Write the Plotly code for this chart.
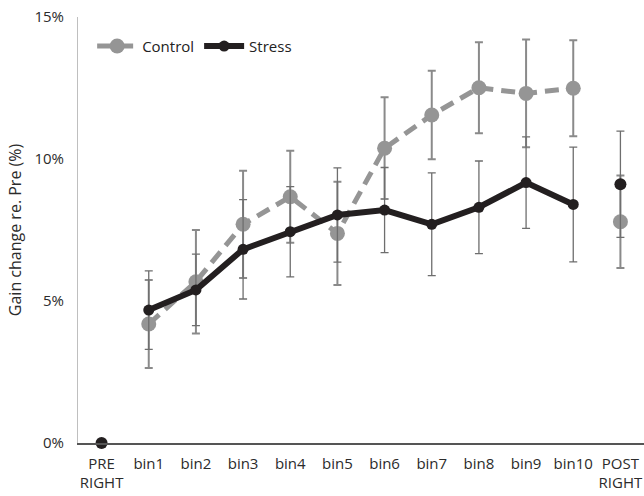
import plotly.graph_objects as go

categories = ["PRE<br>RIGHT", "bin1", "bin2", "bin3", "bin4", "bin5", "bin6",
              "bin7", "bin8", "bin9", "bin10", "POST<br>RIGHT"]
control = [0, 4.19, 5.68, 7.70, 8.67, 7.38, 10.38, 11.55, 12.51, 12.31, 12.49, 7.79]
control_err = [None, 1.55, 1.82, 1.89, 1.62, 1.82, 1.79, 1.56, 1.60, 1.90, 1.69, 1.63]
stress = [0, 4.68, 5.39, 6.82, 7.44, 8.03, 8.20, 7.70, 8.30, 9.17, 8.40, 9.11]
stress_err = [None, 1.38, 1.26, 1.75, 1.59, 1.66, 1.50, 1.81, 1.63, 1.61, 2.02, 1.87]
y_ticks = [0, 5, 10, 15]
y_tick_text = ["0%", "5%", "10%", "15%"]

CTRL = "#959595"
STR = "#231f20"
FONT = "Open Sans"
TXT = "#2b2b2b"

fig = go.Figure()

bins = slice(1, 11)
ends = [0, 11]

# Control
fig.add_trace(go.Scatter(
    x=categories[bins], y=control[bins], name="Control", mode="lines+markers",
    line=dict(color=CTRL, width=5, dash="14px,8px"),
    marker=dict(size=15, color=CTRL, line=dict(width=0)),
    error_y=dict(type="data", array=control_err[bins], color="#8a8a8a",
                 thickness=2, width=4),
    cliponaxis=False,
))
fig.add_trace(go.Scatter(
    x=[categories[11]], y=[control[11]],
    mode="markers", showlegend=False,
    marker=dict(size=15, color=CTRL, line=dict(width=0)),
    error_y=dict(type="data", array=[control_err[11]],
                 color="#8a8a8a", thickness=2, width=4),
    cliponaxis=False,
))
# Stress
fig.add_trace(go.Scatter(
    x=categories[bins], y=stress[bins], name="Stress", mode="lines+markers",
    line=dict(color=STR, width=6),
    marker=dict(size=11, color=STR, line=dict(width=0)),
    error_y=dict(type="data", array=stress_err[bins], color="#6e6e6e",
                 thickness=1.3, width=4),
    cliponaxis=False,
))
fig.add_trace(go.Scatter(
    x=[categories[i] for i in ends], y=[stress[i] for i in ends],
    mode="markers", showlegend=False,
    marker=dict(size=12, color=STR, line=dict(width=0)),
    error_y=dict(type="data", array=[stress_err[i] for i in ends],
                 color="#6e6e6e", thickness=1.3, width=4),
    cliponaxis=False,
))

fig.update_layout(
    width=644, height=496,
    margin=dict(l=78, r=0, t=17, b=53, autoexpand=False),
    paper_bgcolor="white", plot_bgcolor="white",
    font=dict(family=FONT, size=15, color=TXT),
    legend=dict(orientation="h", x=0.025, y=0.97, xanchor="left", yanchor="top",
                bgcolor="rgba(0,0,0,0)", font=dict(size=15, color="#222222"),
                itemwidth=40, tracegroupgap=0),
    showlegend=True,
)
fig.update_xaxes(
    type="category", categoryorder="array", categoryarray=categories,
    range=[-0.5, 11.5], automargin=False,
    showline=True, linecolor="#555555", linewidth=1.5,
    showgrid=False, zeroline=False,
    ticks="outside", ticklen=6, tickcolor="rgba(0,0,0,0)",
    tickfont=dict(size=15, color=TXT),
)
fig.update_yaxes(
    range=[0, 15], tickvals=y_ticks, ticktext=y_tick_text, automargin=False,
    showline=True, linecolor="#bfbfbf", linewidth=1,
    showgrid=False, zeroline=False,
    ticks="outside", ticklen=10, tickcolor="rgba(0,0,0,0)",
    title=dict(text="Gain change re. Pre (%)", font=dict(size=16, color=TXT),
               standoff=8),
    tickfont=dict(size=15, color=TXT),
)

fig.write_html(
    "out.html",
    config={"displayModeBar": False},
    post_script="document.body.style.margin='0';document.body.style.overflow='hidden';",
)
